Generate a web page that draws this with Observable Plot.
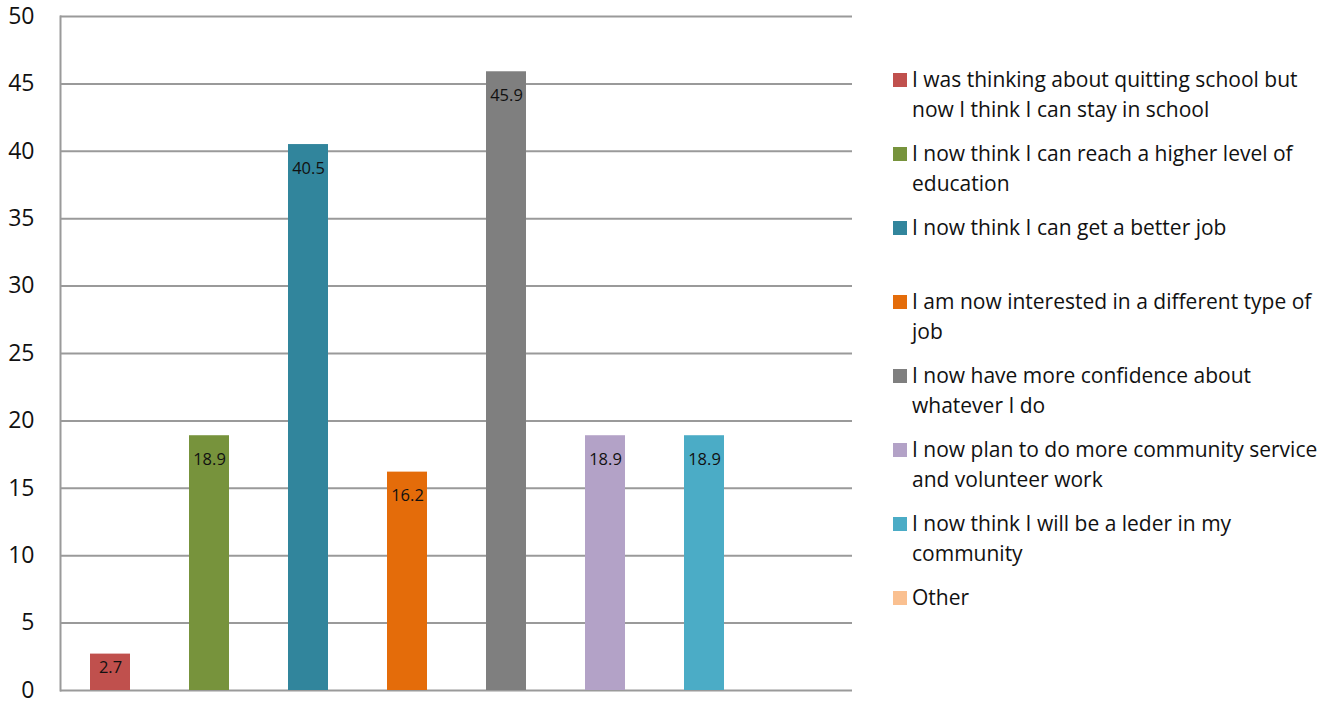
<!DOCTYPE html>
<html>
<head>
<meta charset="utf-8">
<script src="https://cdn.jsdelivr.net/npm/d3@7"></script>
<script src="https://cdn.jsdelivr.net/npm/@observablehq/plot@0.6"></script>
<style>
  html, body { margin: 0; padding: 0; background: #fff; }
  #wrap { position: relative; width: 1325px; height: 719px; font-family: "Open Sans", sans-serif; }
  #chart { position: absolute; left: 0; top: 0; }
  #legend { position: absolute; left: 893px; top: 64px; }
  .item { position: relative; height: 74px; }
  .sw { position: absolute; left: 0; top: 9px; width: 14px; height: 14px; }
  .lbl { position: absolute; left: 19px; top: 0; font-size: 21px; line-height: 30px; color: #111; white-space: pre; }
</style>
</head>
<body>
<div id="wrap"><div id="chart"></div><div id="legend"></div></div>
<script>
const categories = [
  "I was thinking about quitting school but\nnow I think I can stay in school",
  "I now think I can reach a higher level of\neducation",
  "I now think I can get a better job",
  "I am now interested in a different type of\njob",
  "I now have more confidence about\nwhatever I do",
  "I now plan to do more community service\nand volunteer work",
  "I now think I will be a leder in my\ncommunity",
  "Other"
];
const values = [2.7, 18.9, 40.5, 16.2, 45.9, 18.9, 18.9, null];
const colors = ["#C0504D", "#77933C", "#31859C", "#E46C0A", "#7F7F7F", "#B3A2C7", "#4BACC6", "#FAC090"];
const yTicks = [0, 5, 10, 15, 20, 25, 30, 35, 40, 45, 50];

const data = categories.map((c, i) => ({category: c, value: values[i]}));
const shown = data.filter(d => d.value != null);

const plot = Plot.plot({
  width: 870,
  height: 719,
  marginLeft: 60,
  marginRight: 18,
  marginTop: 16,
  marginBottom: 29,
  style: {fontFamily: "Open Sans, sans-serif", background: "transparent"},
  x: {domain: categories, paddingInner: 0.596, paddingOuter: 0.298, axis: null},
  y: {domain: [0, 50], ticks: yTicks, label: null},
  color: {domain: categories, range: colors},
  marks: [
    Plot.ruleY(yTicks, {stroke: "#9a9a9a", strokeWidth: 2}),
    Plot.frame({anchor: "left", stroke: "#9a9a9a", strokeWidth: 2}),
    Plot.axisY({ticks: yTicks, tickSize: 0, tickPadding: 26, fontSize: 23, fill: "#111", label: null}),
    Plot.barY(shown, {x: "category", y: "value", fill: "category"}),
    Plot.text(shown.filter(d => d.value > 5), {x: "category", y: "value", text: d => d.value.toFixed(1), dy: 24, fontSize: 16.5, fill: "#111"}),
    Plot.text(shown.filter(d => d.value <= 5), {x: "category", y: "value", text: d => d.value.toFixed(1), dy: 14, fontSize: 16.5, fill: "#111"})
  ]
});
document.getElementById("chart").appendChild(plot);

const legend = document.getElementById("legend");
categories.forEach((c, i) => {
  const item = document.createElement("div");
  item.className = "item";
  const sw = document.createElement("div");
  sw.className = "sw";
  sw.style.background = colors[i];
  const lbl = document.createElement("div");
  lbl.className = "lbl";
  lbl.textContent = c;
  item.appendChild(sw);
  item.appendChild(lbl);
  legend.appendChild(item);
});
</script>
</body>
</html>
